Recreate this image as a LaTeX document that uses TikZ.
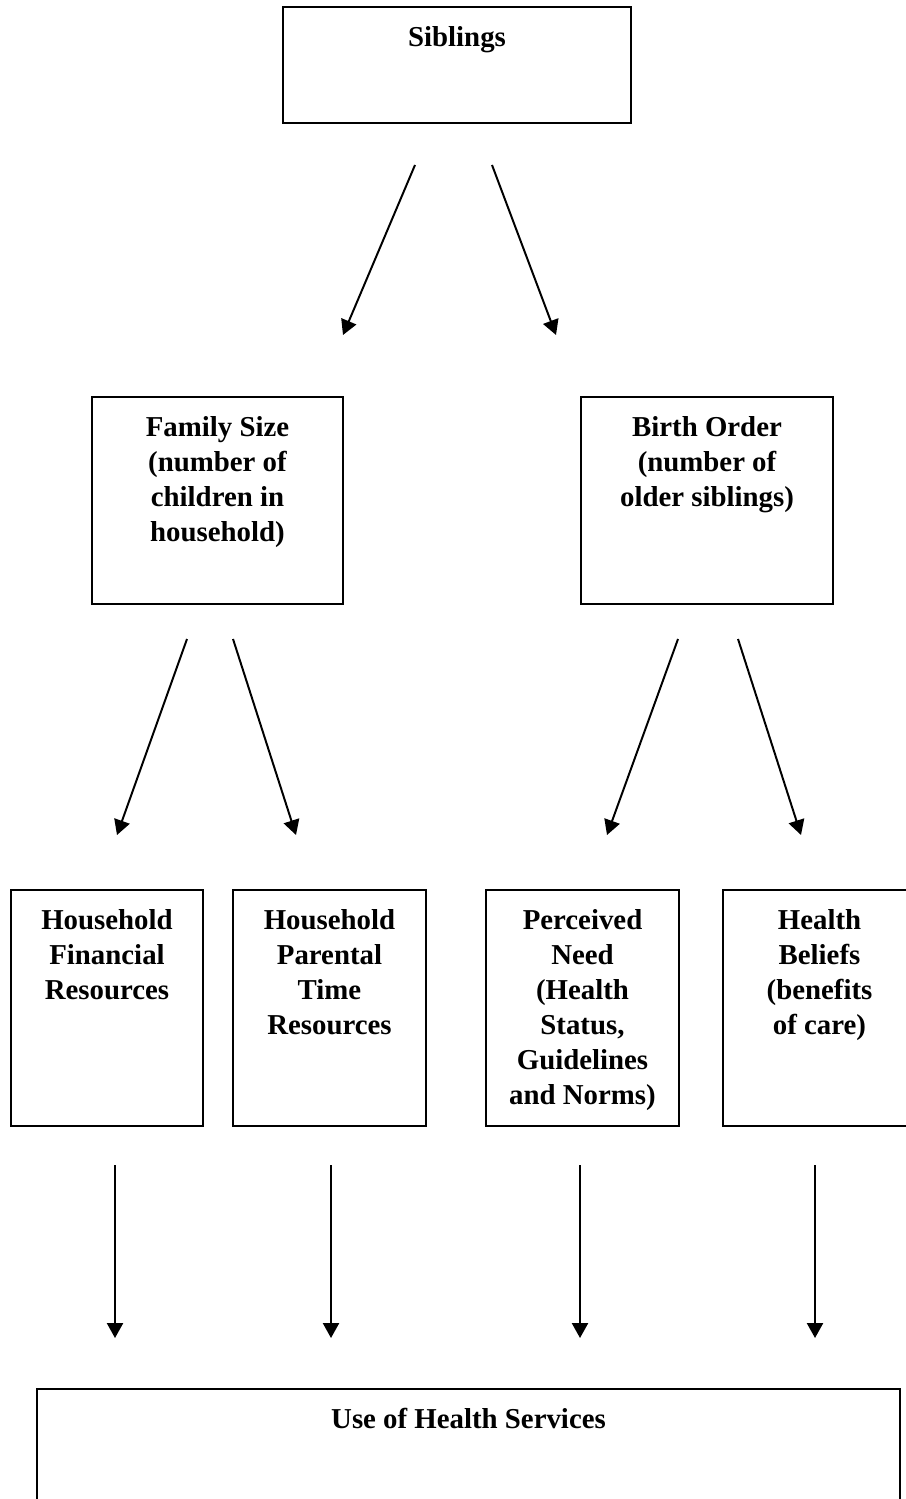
\documentclass[tikz,border=0pt]{standalone}
\usepackage{fontspec}
\setmainfont{Liberation Serif}
\usetikzlibrary{arrows.meta, positioning}

\begin{document}
\begin{tikzpicture}[
  x=0.0125cm, y=-0.0125cm,
  box/.style={rectangle, draw=black, line width=0.7pt, inner sep=0pt},
  midbox/.style={box, minimum width=3.14cm, minimum height=2.59cm},
  lowbox/.style={box, minimum width=2.41cm, minimum height=2.95cm},
  txt/.style={inner sep=0pt, align=center,
              font=\fontsize{10.25pt}{12.45pt}\selectfont\bfseries},
  arrow/.style={-{Triangle[length=5.3pt, width=5.7pt]}, line width=0.7pt},
]
  \useasboundingbox (0,0) rectangle (905,1499);

  % Siblings
  \node[box, minimum width=4.35cm, minimum height=1.45cm] (sib) at (457,65) {};
  \node[txt, below=7pt of sib.north] (sibtxt) {Siblings};

  % Family size and birth order
  \node[midbox] (fam) at (217.5,500.5) {};
  \node[txt, below=7pt of fam.north] (famtxt) {Family Size\\(number of\\children in\\household)};
  \node[midbox] (birth) at (707,500.5) {};
  \node[txt, below=7pt of birth.north] (birthtxt) {Birth Order\\(number of\\older siblings)};

  % Pathways
  \node[lowbox] (fin) at (107,1008) {};
  \node[txt, below=7pt of fin.north] (fintxt) {Household\\Financial\\Resources};
  \node[lowbox] (par) at (329.5,1008) {};
  \node[txt, below=7pt of par.north] (partxt) {Household\\Parental\\Time\\Resources};
  \node[lowbox] (need) at (582.5,1008) {};
  \node[txt, below=7pt of need.north] (needtxt) {Perceived\\Need\\(Health\\Status,\\Guidelines\\and Norms)};
  \node[lowbox] (belief) at (819.5,1008) {};
  \node[txt, below=7pt of belief.north] (belieftxt) {Health\\Beliefs\\(benefits\\of care)};

  % Outcome
  \node[box, minimum width=10.79cm, minimum height=2.64cm] (use) at (468.5,1494.5) {};
  \node[txt, below=7pt of use.north] (usetxt) {Use of Health Services};

  % Arrow ends
  \coordinate (s1) at (415,165);  \coordinate (t1) at (343,335);
  \coordinate (s2) at (492,165);  \coordinate (t2) at (556,335);
  \coordinate (f1) at (187,639);  \coordinate (u1) at (117,835);
  \coordinate (f2) at (233,639);  \coordinate (u2) at (296,835);
  \coordinate (b1) at (678,639);  \coordinate (v1) at (607,835);
  \coordinate (b2) at (738,639);  \coordinate (v2) at (801,835);
  \coordinate (p1) at (115,1165); \coordinate (q1) at (115,1338);
  \coordinate (p2) at (331,1165); \coordinate (q2) at (331,1338);
  \coordinate (p3) at (580,1165); \coordinate (q3) at (580,1338);
  \coordinate (p4) at (815,1165); \coordinate (q4) at (815,1338);

  % Arrows
  \draw[arrow] (s1) -- (t1);
  \draw[arrow] (s2) -- (t2);
  \draw[arrow] (f1) -- (u1);
  \draw[arrow] (f2) -- (u2);
  \draw[arrow] (b1) -- (v1);
  \draw[arrow] (b2) -- (v2);
  \draw[arrow] (p1) -- (q1);
  \draw[arrow] (p2) -- (q2);
  \draw[arrow] (p3) -- (q3);
  \draw[arrow] (p4) -- (q4);
\end{tikzpicture}
\end{document}
